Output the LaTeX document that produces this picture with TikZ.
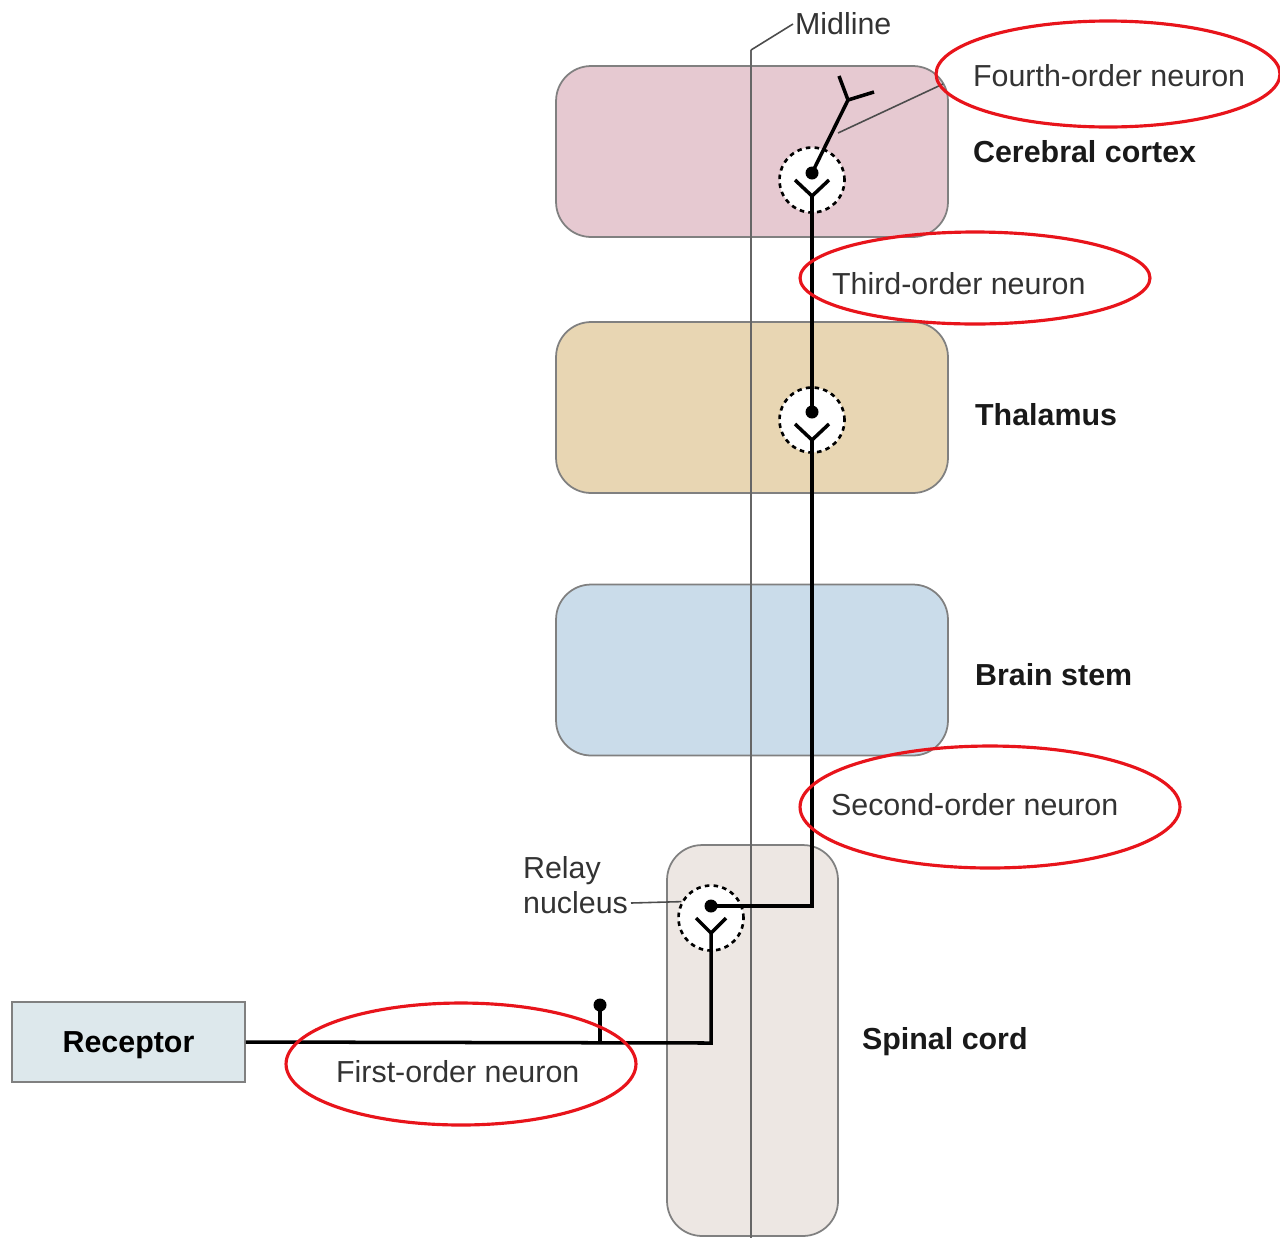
\documentclass[tikz,border=0pt]{standalone}
\usepackage{fontspec}
\setmainfont{Liberation Sans}
\usetikzlibrary{calc}

\definecolor{cortexfill}{HTML}{E6C9D1}
\definecolor{thalfill}{HTML}{E8D6B3}
\definecolor{stemfill}{HTML}{CADCEA}
\definecolor{cordfill}{HTML}{EDE7E3}
\definecolor{recfill}{HTML}{DDE8EC}
\definecolor{ringred}{HTML}{E8141B}

\begin{document}
\begin{tikzpicture}[x=0.02cm,y=-0.02cm,
  region/.style={draw=black!50,line width=1pt,rounded corners=0.7cm,
    minimum width=7.84cm,minimum height=3.42cm,inner sep=0pt},
  neuron/.style={line width=2pt,line join=miter},
  synapse/.style={circle,draw,dash pattern=on 2.6pt off 2.4pt,line width=1.5pt,
    fill=white,minimum size=1.3cm,inner sep=0pt},
  lbl/.style={font=\fontsize{17.3}{19.5}\selectfont,text=black!80,anchor=west,inner sep=1pt},
  partname/.style={font=\fontsize{17.3}{19.5}\selectfont\bfseries,text=black!90,anchor=west,inner sep=1pt},
  ring/.style={draw=ringred,line width=1.8pt}]
  \useasboundingbox (0,0) rectangle (1280,1238);

  % regions
  \node[region,fill=cortexfill] (cortex) at (752,151.5) {};
  \node[region,fill=thalfill] (thal) at (752,407.5) {};
  \node[region,fill=stemfill] (stem) at (752,670) {};
  \node[region,fill=cordfill,minimum width=3.42cm,minimum height=7.82cm] (cord) at (752.5,1040.5) {};
  \node[draw=black!50,line width=1pt,fill=recfill,minimum width=4.66cm,minimum height=1.6cm,
    text depth=0pt,font=\fontsize{17.3}{19.5}\selectfont\bfseries] (rec) at (128.5,1042) {Receptor};

  % midline
  \coordinate (midtop) at (751,50);
  \coordinate (midbot) at (751,1238);
  \draw[black!60,line width=1.1pt] (midtop) -- (midbot);
  \node[lbl] (midlbl) at (793,24) {Midline};
  \draw[black!70,line width=0.9pt] (midtop) -- (midlbl.west);

  % synapses
  \node[synapse] (relay) at (711,918) {};
  \node[synapse] (thsyn) at (812,420) {};
  \node[synapse] (cxsyn) at (812,180) {};

  \coordinate (relaydot) at (711,906);
  \coordinate (relayv) at (711,933);
  \coordinate (thdot) at (812,412);
  \coordinate (thv) at (812,440);
  \coordinate (cxdot) at (812,173);
  \coordinate (cxv) at (812,196);
  \coordinate (turn1) at (711,1043);
  \coordinate (turn2) at (812,906);
  \coordinate (branch) at (600,1043);
  \coordinate (branchdot) at (600,1005);
  \coordinate (fork) at (848,100);

  % first-order neuron
  \draw[neuron] (rec.east) -- (turn1) -- (relayv);
  \draw[neuron] (branch) -- (branchdot);
  \draw[neuron] ($(relayv)+(-15,-15)$) -- (relayv) -- ($(relayv)+(15,-15)$);
  % second-order neuron
  \draw[neuron] (relaydot) -- (turn2) -- (thv);
  \draw[neuron] ($(thv)+(-17,-16)$) -- (thv) -- ($(thv)+(17,-16)$);
  % third-order neuron
  \draw[neuron] (thdot) -- (cxv);
  \draw[neuron] ($(cxv)+(-17,-16)$) -- (cxv) -- ($(cxv)+(17,-16)$);
  % fourth-order neuron
  \draw[neuron] (cxdot) -- (fork) -- (839,76);
  \draw[neuron] (fork) -- (874,92);

  \foreach \d in {relaydot,thdot,cxdot,branchdot}
    \fill (\d) circle (0.13cm);

  % labels
  \node[lbl] (fourth) at (971,76) {Fourth-order neuron};
  \draw[black!70,line width=0.9pt] (838,133) -- (943,84);
  \node[partname] (cxname) at (971,152) {Cerebral cortex};
  \node[lbl] (third) at (830,284) {Third-order neuron};
  \node[partname] (thname) at (973,415) {Thalamus};
  \node[partname] (stname) at (973,675) {Brain stem};
  \node[lbl] (second) at (829,805) {Second-order neuron};
  \node[lbl,align=left] (relaylbl) at (521,885) {Relay\\nucleus};
  \coordinate (relaytick) at (631,903);
  \draw[black!70,line width=0.9pt] (relaytick) -- (relay.151);
  \node[partname] (cdname) at (860,1042) {Spinal cord};
  \node[lbl] (first) at (334,1072) {First-order neuron};

  % highlight rings
  \draw[ring] (1108,74) ellipse [x radius=3.44cm,y radius=1.06cm];
  \draw[ring] (975,278) ellipse [x radius=3.5cm,y radius=0.92cm];
  \draw[ring] (990,807) ellipse [x radius=3.8cm,y radius=1.22cm];
  \draw[ring] (461,1064) ellipse [x radius=3.5cm,y radius=1.22cm];
\end{tikzpicture}
\end{document}
